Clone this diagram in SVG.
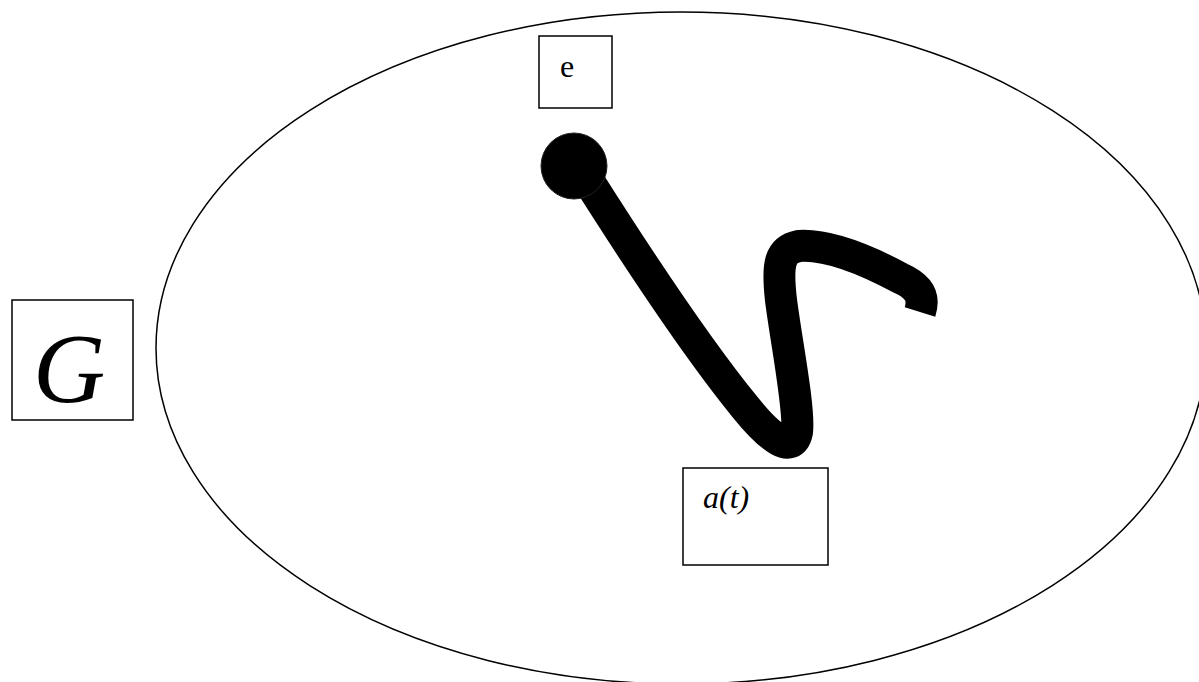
<svg xmlns="http://www.w3.org/2000/svg" width="1199" height="682" viewBox="0 0 1199 682">
<style>
.box{fill:#fff;stroke:#000;stroke-width:1.5}
</style>
<rect width="1199" height="682" fill="#fff"/>
<g id="region">
<ellipse cx="681" cy="348" rx="525" ry="336" fill="none" stroke="#000" stroke-width="1.5"/>
</g>
<g id="connectors">
<path d="M 588,180 C 640,262 700,352 745,407 C 770,438 792,455 797,432 C 800,410 786,340 781,300 C 777,265 779,250 799,246 C 830,244 870,262 900,278 C 918,286 925,296 920,312" fill="none" stroke="#000" stroke-width="32" stroke-linejoin="round"/>
</g>
<g id="start">
<circle cx="574" cy="166" r="33" fill="#000" stroke="#222" stroke-width="1"/>
</g>
<g id="node-e">
<rect class="box" x="539" y="36" width="73" height="72"/>
<text x="560" y="77" font-family="'Liberation Serif','Times New Roman',serif" font-size="32" fill="#000">e</text>
</g>
<g id="node-G">
<rect class="box" x="12" y="300" width="121" height="120"/>
<text x="33" y="402" font-family="'Liberation Serif','Times New Roman',serif" font-style="italic" font-size="100" fill="#000">G</text>
</g>
<g id="node-at">
<rect class="box" x="683" y="468" width="145" height="97"/>
<text x="703" y="508" font-family="'Liberation Serif','Times New Roman',serif" font-style="italic" font-size="32" fill="#000">a(t)</text>
</g>
</svg>
